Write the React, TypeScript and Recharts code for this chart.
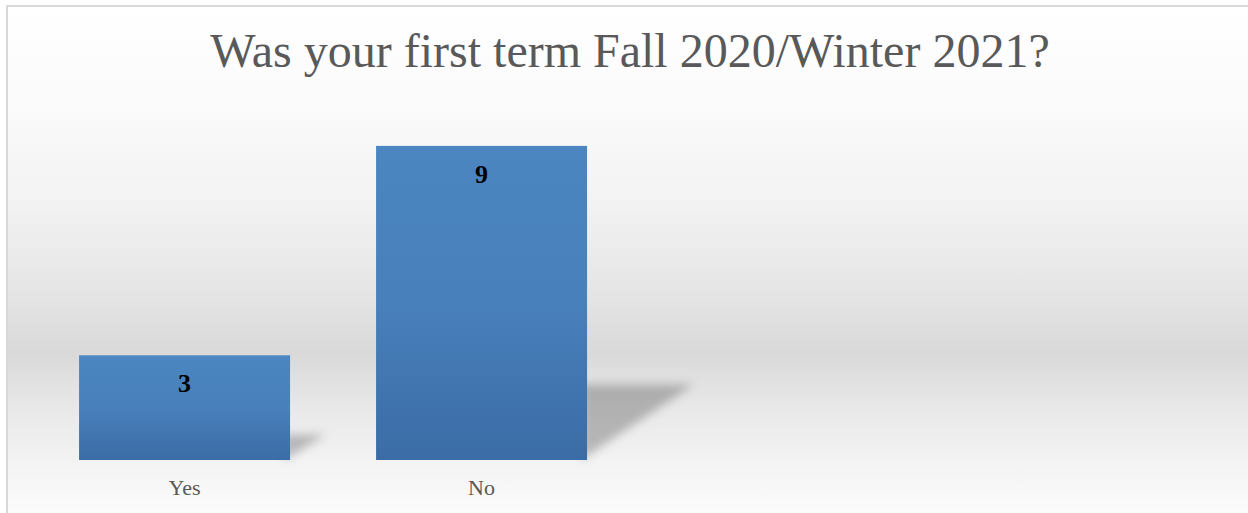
import React from 'react';
import { BarChart, Bar, XAxis, YAxis, LabelList } from 'recharts';

const categories = ['Yes', 'No', '', ''];
const counts: (number | null)[] = [3, 9, null, null];
const title = 'Was your first term Fall 2020/Winter 2021?';

const chartData = categories.map((name, i) => ({ name, count: counts[i] }));

const W = 1248;
const H = 513;
const serif = '"Liberation Serif", "Times New Roman", serif';

// bar with a sheared floor shadow to its right
function ShadowBar(props: any) {
  const { x, y, width, height } = props;
  if (!height || height <= 0) return null;
  const base = y + height;
  const right = x + width;
  const dx = height * 0.34;
  const dy = height * 0.24;
  return (
    <g>
      <polygon
        points={`${right - 6},${base} ${right - 6},${base - dy} ${right + dx},${base - dy}`}
        fill="#000"
        fillOpacity={0.24}
        filter="url(#shadowBlur)"
      />
      <rect x={x} y={y} width={width} height={height} fill="url(#barGrad)" />
    </g>
  );
}

function CategoryTick(props: any) {
  const { x, y, payload } = props;
  return (
    <text x={x} y={y + 35} textAnchor="middle" fill="#595959" fontSize={22} fontFamily={serif}>
      {payload.value}
    </text>
  );
}

function ValueLabel(props: any) {
  const { x, y, width, value } = props;
  if (value == null) return null;
  return (
    <text x={x + width / 2} y={y + 37} textAnchor="middle" fill="#000" fontSize={26} fontWeight="bold" fontFamily={serif}>
      {value}
    </text>
  );
}

export default function App() {
  return (
    <div style={{ position: 'fixed', left: 0, top: 0, width: W, height: H, overflow: 'hidden', background: '#fff' }}>
      <div
        style={{
          position: 'absolute',
          left: 6,
          top: 5,
          width: 1260,
          height: 530,
          borderLeft: '2px solid #d9d9d9',
          borderTop: '2px solid #d9d9d9',
          background:
            'linear-gradient(to bottom, #ffffff 0px, #fbfbfb 90px, #f3f3f3 190px, #e6e6e6 280px, #d9d9d9 345px, #e8e8e8 400px, #f4f4f4 460px, #fcfcfc 510px)',
        }}
      />
      <svg width={W} height={H} style={{ position: 'absolute', left: 0, top: 0 }}>
        <text x={630} y={67} textAnchor="middle" fill="#595959" fontSize={48} fontFamily={serif}>
          {title}
        </text>
      </svg>
      <div style={{ position: 'absolute', left: 0, top: 0 }}>
        <BarChart
          width={W}
          height={H}
          data={chartData}
          margin={{ top: 111, right: 24, left: 36, bottom: 23 }}
          barCategoryGap="14.5%"
        >
          <defs>
            <linearGradient id="barGrad" x1="0" y1="0" x2="0" y2="1">
              <stop offset="0%" stopColor="#4b86c1" />
              <stop offset="50%" stopColor="#4880bb" />
              <stop offset="100%" stopColor="#3b6ca6" />
            </linearGradient>
            <filter id="shadowBlur" x="-50%" y="-50%" width="200%" height="200%">
              <feGaussianBlur stdDeviation="5" />
            </filter>
          </defs>
          <XAxis
            dataKey="name"
            axisLine={false}
            tickLine={false}
            tickSize={0}
            tickMargin={0}
            height={30}
            interval={0}
            tick={<CategoryTick />}
          />
          <YAxis hide domain={[0, 10]} />
          <Bar dataKey="count" shape={<ShadowBar />} isAnimationActive={false}>
            <LabelList dataKey="count" content={<ValueLabel />} />
          </Bar>
        </BarChart>
      </div>
    </div>
  );
}
